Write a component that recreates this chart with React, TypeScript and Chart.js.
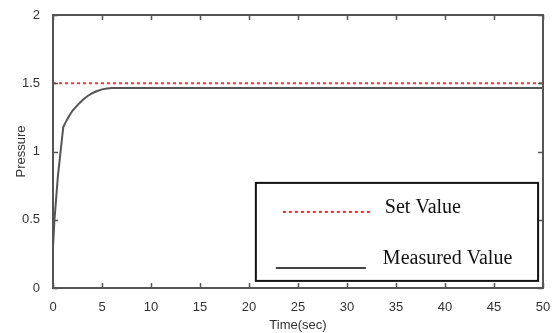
import React, { useEffect, useRef } from "react";
import { Chart, registerables } from "chart.js";

Chart.register(...registerables);

const timeValues = [0, 0, 0.15, 0.5, 1.05, 1.3, 1.6, 2, 2.5, 3, 3.5, 4, 4.5, 5, 5.5, 6, 10, 20, 30, 40, 50];
const measuredValues = [0.15, 0.3, 0.5, 0.82, 1.18, 1.215, 1.255, 1.3, 1.34, 1.375, 1.405, 1.427, 1.443, 1.455, 1.462, 1.465, 1.465, 1.465, 1.465, 1.465, 1.465];
const setTimes = [0, 50];
const setValues = [1.5, 1.5];
const xTicks = [0, 5, 10, 15, 20, 25, 30, 35, 40, 45, 50];
const yTicks = [0, 0.5, 1, 1.5, 2];
const legendLabels = ["Set Value", "Measured Value"];

const tickFont = { family: "'Liberation Sans', Arial, sans-serif", size: 13 };

const frameAndLegend = {
  id: "frameAndLegend",
  afterDraw(chart: any) {
    const { ctx, chartArea: a, scales } = chart;
    const x = scales.x;
    const y = scales.y;
    ctx.save();
    ctx.strokeStyle = "#555";
    ctx.lineWidth = 2;
    ctx.strokeRect(a.left, a.top, a.right - a.left, a.bottom - a.top);
    ctx.lineWidth = 1.5;
    ctx.beginPath();
    for (const v of xTicks) {
      const px = Math.round(x.getPixelForValue(v)) + 0.5;
      ctx.moveTo(px, a.bottom);
      ctx.lineTo(px, a.bottom - 5);
      ctx.moveTo(px, a.top);
      ctx.lineTo(px, a.top + 5);
    }
    for (const v of yTicks) {
      const py = Math.round(y.getPixelForValue(v)) + 0.5;
      ctx.moveTo(a.left, py);
      ctx.lineTo(a.left + 5, py);
      ctx.moveTo(a.right, py);
      ctx.lineTo(a.right - 5, py);
    }
    ctx.stroke();
    const lx = a.left + (a.right - a.left) * 0.414;
    const ly = a.top + (a.bottom - a.top) * 0.615;
    const lw = (a.right - a.left) * 0.576;
    const lh = (a.bottom - a.top) * 0.359;
    ctx.fillStyle = "#fff";
    ctx.fillRect(lx, ly, lw, lh);
    ctx.strokeStyle = "#111";
    ctx.lineWidth = 2;
    ctx.strokeRect(lx, ly, lw, lh);
    ctx.strokeStyle = "#ff2020";
    ctx.lineWidth = 2;
    ctx.setLineDash([3, 3]);
    ctx.beginPath();
    ctx.moveTo(lx + 27, ly + 29);
    ctx.lineTo(lx + 117, ly + 29);
    ctx.stroke();
    ctx.setLineDash([]);
    ctx.strokeStyle = "#444";
    ctx.beginPath();
    ctx.moveTo(lx + 20, ly + 85);
    ctx.lineTo(lx + 110, ly + 85);
    ctx.stroke();
    ctx.fillStyle = "#111";
    ctx.font = "20px 'Liberation Serif', 'Times New Roman', serif";
    ctx.textBaseline = "middle";
    ctx.textAlign = "left";
    ctx.fillText(legendLabels[0], lx + 129, ly + 25);
    ctx.fillText(legendLabels[1], lx + 127, ly + 76);
    ctx.restore();
  },
};

export default function App() {
  const ref = useRef<HTMLCanvasElement>(null);
  useEffect(() => {
    document.body.style.margin = "0";
    const chart = new Chart(ref.current as HTMLCanvasElement, {
      type: "scatter",
      data: {
        datasets: [
          {
            label: legendLabels[0],
            data: setTimes.map((t, i) => ({ x: t, y: setValues[i] })),
            showLine: true,
            borderColor: "#ff3030",
            borderWidth: 2,
            borderDash: [3, 3],
            pointRadius: 0,
          },
          {
            label: legendLabels[1],
            data: timeValues.map((t, i) => ({ x: t, y: measuredValues[i] })),
            showLine: true,
            borderColor: "#555",
            borderWidth: 2,
            tension: 0,
            pointRadius: 0,
          },
        ],
      },
      options: {
        animation: false,
        responsive: false,
        layout: { padding: { top: 15, right: 14, left: 14, bottom: 0 } },
        plugins: { legend: { display: false }, tooltip: { enabled: false } },
        scales: {
          x: {
            type: "linear",
            min: 0,
            max: 50,
            afterBuildTicks: (s: any) => {
              s.ticks = xTicks.map((v) => ({ value: v }));
            },
            afterFit: (s: any) => {
              s.height = 45;
            },
            grid: { display: false },
            border: { display: false },
            ticks: { color: "#333", font: tickFont, padding: 4, maxRotation: 0 },
            title: {
              display: true,
              text: "Time(sec)",
              color: "#333",
              font: tickFont,
              padding: { top: 0, bottom: 0 },
            },
          },
          y: {
            type: "linear",
            min: 0,
            max: 2,
            afterBuildTicks: (s: any) => {
              s.ticks = yTicks.map((v) => ({ value: v }));
            },
            afterFit: (s: any) => {
              s.width = 39;
            },
            grid: { display: false },
            border: { display: false },
            ticks: {
              color: "#333",
              font: tickFont,
              padding: 5,
              callback: (v: any) => String(v),
            },
            title: {
              display: true,
              text: "Pressure",
              color: "#333",
              font: tickFont,
              padding: { top: 0, bottom: 0 },
            },
          },
        },
      },
      plugins: [frameAndLegend],
    } as any);
    return () => chart.destroy();
  }, []);
  return <canvas ref={ref} width={557} height={333} style={{ display: "block" }} />;
}
